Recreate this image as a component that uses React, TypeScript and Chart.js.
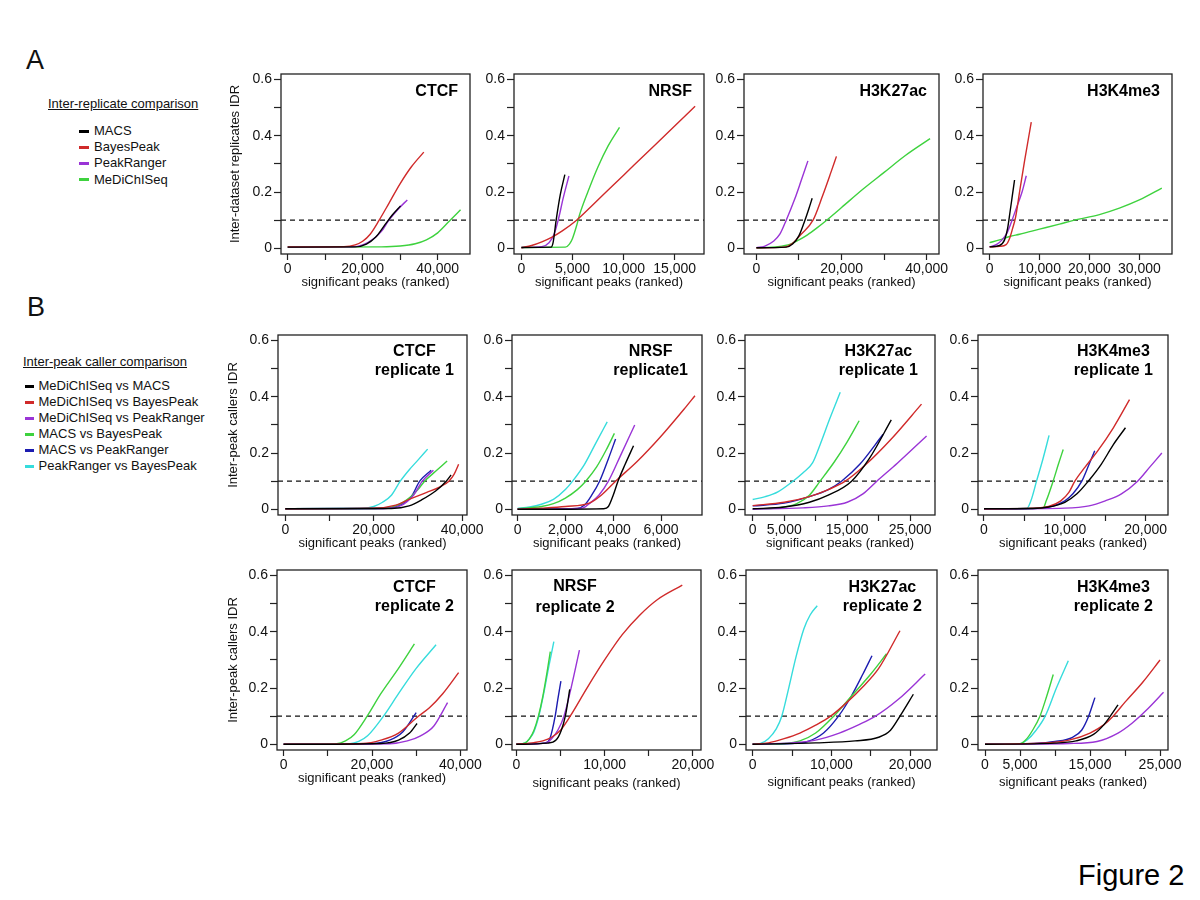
import React, { useEffect, useRef } from "react";
import { Chart, registerables } from "chart.js";

Chart.register(...registerables);

const FONT = '"Liberation Sans", Arial, Helvetica, sans-serif';
Chart.defaults.font.family = FONT;

type Pt = [number, number];

// ---------- colours ----------
const C_BLACK = "#000000";
const C_RED = "#d02a2a";
const C_PURPLE = "#9a34d6";
const C_GREEN = "#3ed23e";
const C_BLUE = "#1c1cb0";
const C_CYAN = "#36dcdc";
const AXIS = "#222222";
const TEXT = "#111111";

// ---------- shared axis values ----------
const Y_TICK_VALUES = [0, 0.1, 0.2, 0.3, 0.4, 0.5, 0.6];
const Y_TICK_LABELS = [0, 0.2, 0.4, 0.6];
const Y_MIN = -0.0203;
const Y_MAX = 0.62;
const IDR_THRESHOLD = 0.1;
const X_TITLE = "significant peaks (ranked)";

// ---------- legend ----------
const A_NAMES = ["MACS", "BayesPeak", "PeakRanger", "MeDiChISeq"];
const A_COLORS = [C_BLACK, C_RED, C_PURPLE, C_GREEN];
const B_NAMES = [
  "MeDiChISeq vs MACS",
  "MeDiChISeq vs BayesPeak",
  "MeDiChISeq vs PeakRanger",
  "MACS vs BayesPeak",
  "MACS vs PeakRanger",
  "PeakRanger vs BayesPeak",
];
const B_COLORS = [C_BLACK, C_RED, C_PURPLE, C_GREEN, C_BLUE, C_CYAN];

// ---------- A: inter-replicate ----------
const A_CTCF_MACS: Pt[] = [[0, 0.004], [18000, 0.005], [21000, 0.015], [23500, 0.04], [26000, 0.085], [28000, 0.12], [30100, 0.151]];
const A_CTCF_BAYES: Pt[] = [[0, 0.005], [15000, 0.006], [18000, 0.012], [20000, 0.025], [22000, 0.05], [24400, 0.1], [27000, 0.16], [30000, 0.23], [33000, 0.29], [36300, 0.342]];
const A_CTCF_PR: Pt[] = [[0, 0.004], [17000, 0.005], [20000, 0.012], [23000, 0.035], [25000, 0.06], [27000, 0.1], [29500, 0.14], [31900, 0.172]];
const A_CTCF_MED: Pt[] = [[0, 0.004], [25000, 0.005], [30000, 0.008], [34000, 0.016], [37000, 0.03], [40000, 0.055], [43000, 0.095], [46100, 0.137]];

const A_NRSF_MACS: Pt[] = [[0, 0.003], [2900, 0.004], [3100, 0.02], [3400, 0.1], [3800, 0.19], [4250, 0.262]];
const A_NRSF_BAYES: Pt[] = [[0, 0.002], [1000, 0.01], [2000, 0.023], [3000, 0.04], [4000, 0.062], [5400, 0.1], [7000, 0.155], [9000, 0.225], [11000, 0.295], [13000, 0.365], [15000, 0.435], [17000, 0.505]];
const A_NRSF_PR: Pt[] = [[0, 0.003], [2000, 0.006], [2700, 0.02], [3200, 0.05], [3600, 0.1], [4100, 0.18], [4650, 0.257]];
const A_NRSF_MED: Pt[] = [[0, 0.003], [4300, 0.004], [4700, 0.015], [5000, 0.035], [5400, 0.08], [5700, 0.12], [6500, 0.2], [7500, 0.29], [8500, 0.365], [9600, 0.43]];

const A_K27_MACS: Pt[] = [[0, 0.002], [7000, 0.004], [8500, 0.015], [10000, 0.045], [11400, 0.1], [12300, 0.14], [13100, 0.178]];
const A_K27_BAYES: Pt[] = [[0, 0.002], [6500, 0.004], [8500, 0.018], [10500, 0.05], [13300, 0.1], [15500, 0.185], [17500, 0.27], [18800, 0.327]];
const A_K27_PR: Pt[] = [[0, 0.002], [2000, 0.008], [4000, 0.025], [5500, 0.05], [7000, 0.1], [9000, 0.175], [10500, 0.24], [12100, 0.311]];
const A_K27_MED: Pt[] = [[0, 0.002], [5000, 0.006], [8000, 0.015], [10000, 0.03], [12000, 0.048], [14000, 0.07], [16500, 0.1], [20000, 0.145], [25000, 0.21], [30000, 0.27], [35000, 0.33], [40800, 0.39]];

const A_K4_MACS: Pt[] = [[0, 0.005], [2000, 0.01], [3000, 0.03], [3600, 0.07], [4100, 0.13], [4500, 0.18], [5000, 0.243]];
const A_K4_BAYES: Pt[] = [[0, 0.005], [2000, 0.007], [3300, 0.013], [4000, 0.035], [4600, 0.07], [5200, 0.11], [6000, 0.2], [7000, 0.31], [8350, 0.449]];
const A_K4_PR: Pt[] = [[0, 0.005], [1500, 0.015], [2500, 0.03], [3500, 0.055], [4500, 0.1], [5500, 0.15], [6500, 0.2], [7350, 0.258]];
const A_K4_MED: Pt[] = [[0, 0.02], [2000, 0.03], [4000, 0.042], [6000, 0.05], [10000, 0.068], [14000, 0.086], [17000, 0.1], [22000, 0.12], [26000, 0.143], [30000, 0.172], [34500, 0.214]];

// ---------- B: inter-peak caller, replicate 1 ----------
const B1_CTCF_MED_MACS: Pt[] = [[0, 0.002], [24000, 0.003], [28000, 0.012], [31000, 0.035], [34000, 0.065], [36400, 0.1], [37500, 0.122]];
const B1_CTCF_MED_BAYES: Pt[] = [[0, 0.002], [20000, 0.004], [25000, 0.015], [28000, 0.035], [32000, 0.06], [35000, 0.08], [37000, 0.1], [38200, 0.125], [39200, 0.16]];
const B1_CTCF_MED_PR: Pt[] = [[0, 0.002], [22000, 0.003], [26000, 0.012], [29000, 0.05], [31000, 0.1], [33500, 0.139]];
const B1_CTCF_MACS_BAYES: Pt[] = [[0, 0.002], [20000, 0.003], [25000, 0.012], [28000, 0.04], [30000, 0.07], [31500, 0.1], [34000, 0.135], [36600, 0.172]];
const B1_CTCF_MACS_PR: Pt[] = [[0, 0.002], [22000, 0.003], [26000, 0.015], [28500, 0.045], [30400, 0.1], [33000, 0.139]];
const B1_CTCF_PR_BAYES: Pt[] = [[0, 0.002], [17000, 0.003], [20000, 0.01], [22000, 0.025], [24000, 0.05], [26000, 0.1], [28000, 0.14], [30000, 0.175], [32200, 0.214]];

const B1_NRSF_MED_MACS: Pt[] = [[0, 0.0], [3600, 0.002], [3800, 0.01], [4000, 0.05], [4200, 0.1], [4500, 0.16], [4850, 0.226]];
const B1_NRSF_MED_BAYES: Pt[] = [[0, 0.0], [1000, 0.004], [2000, 0.01], [3000, 0.022], [3500, 0.05], [4100, 0.1], [5000, 0.17], [6000, 0.26], [7000, 0.36], [7420, 0.404]];
const B1_NRSF_MED_PR: Pt[] = [[0, 0.0], [2700, 0.004], [3000, 0.02], [3400, 0.05], [3800, 0.1], [4300, 0.19], [4900, 0.3]];
const B1_NRSF_MACS_BAYES: Pt[] = [[0, 0.002], [1000, 0.01], [1500, 0.02], [2000, 0.04], [2500, 0.07], [2850, 0.1], [3300, 0.15], [3700, 0.21], [4050, 0.27]];
const B1_NRSF_MACS_PR: Pt[] = [[0, 0.0], [2500, 0.003], [2800, 0.015], [3100, 0.05], [3430, 0.1], [3800, 0.18], [4100, 0.25]];
const B1_NRSF_PR_BAYES: Pt[] = [[0, 0.003], [500, 0.008], [1000, 0.018], [1500, 0.035], [2000, 0.07], [2300, 0.1], [2800, 0.16], [3300, 0.24], [3750, 0.311]];

const B1_K27_MED_MACS: Pt[] = [[0, 0.002], [5000, 0.008], [9000, 0.025], [12000, 0.05], [15700, 0.1], [18500, 0.18], [22000, 0.318]];
const B1_K27_MED_BAYES: Pt[] = [[0, 0.013], [5000, 0.025], [9000, 0.045], [12000, 0.07], [14700, 0.1], [18000, 0.16], [22000, 0.25], [26800, 0.374]];
const B1_K27_MED_PR: Pt[] = [[0, 0.0], [8000, 0.005], [12000, 0.012], [15000, 0.025], [17500, 0.055], [19700, 0.1], [23000, 0.165], [27600, 0.261]];
const B1_K27_MACS_BAYES: Pt[] = [[0, 0.0], [4000, 0.005], [7000, 0.02], [9000, 0.05], [10700, 0.1], [13000, 0.17], [15000, 0.24], [16900, 0.315]];
const B1_K27_MACS_PR: Pt[] = [[0, 0.012], [5000, 0.022], [9000, 0.045], [12000, 0.07], [14100, 0.1], [17000, 0.16], [20700, 0.267]];
const B1_K27_PR_BAYES: Pt[] = [[0, 0.035], [2000, 0.045], [4000, 0.062], [6400, 0.1], [8000, 0.13], [9500, 0.165], [10700, 0.23], [12200, 0.32], [13900, 0.416]];

const B1_K4_MED_MACS: Pt[] = [[0, 0.002], [6000, 0.003], [8000, 0.008], [10000, 0.025], [11500, 0.055], [12900, 0.1], [14500, 0.16], [16000, 0.23], [17500, 0.29]];
const B1_K4_MED_BAYES: Pt[] = [[0, 0.002], [6000, 0.004], [8000, 0.01], [9500, 0.03], [10500, 0.06], [11240, 0.1], [12500, 0.15], [14000, 0.205], [16000, 0.29], [18000, 0.39]];
const B1_K4_MED_PR: Pt[] = [[0, 0.001], [10000, 0.004], [13000, 0.012], [15000, 0.03], [17000, 0.055], [19000, 0.1], [20500, 0.15], [22000, 0.2]];
const B1_K4_MACS_BAYES: Pt[] = [[0, 0.002], [7300, 0.004], [7700, 0.03], [8550, 0.1], [9200, 0.16], [9800, 0.213]];
const B1_K4_MACS_PR: Pt[] = [[0, 0.002], [6000, 0.003], [8000, 0.008], [10000, 0.03], [11000, 0.055], [12100, 0.1], [13000, 0.16], [13700, 0.208]];
const B1_K4_PR_BAYES: Pt[] = [[0, 0.002], [5300, 0.003], [5800, 0.03], [6500, 0.1], [7300, 0.18], [8050, 0.263]];

// ---------- B: inter-peak caller, replicate 2 ----------
const B2_CTCF_MED_MACS: Pt[] = [[0, 0.0], [22000, 0.003], [26000, 0.015], [28500, 0.04], [30200, 0.074]];
const B2_CTCF_MED_BAYES: Pt[] = [[0, 0.0], [18000, 0.003], [22000, 0.015], [26000, 0.04], [30500, 0.1], [33000, 0.13], [36000, 0.18], [39600, 0.255]];
const B2_CTCF_MED_PR: Pt[] = [[0, 0.0], [24000, 0.002], [28000, 0.012], [31000, 0.03], [34000, 0.065], [37100, 0.148]];
const B2_CTCF_MACS_BAYES: Pt[] = [[0, 0.0], [12000, 0.002], [14000, 0.012], [16000, 0.035], [18900, 0.1], [22000, 0.18], [26000, 0.27], [29600, 0.357]];
const B2_CTCF_MACS_PR: Pt[] = [[0, 0.0], [20000, 0.003], [24000, 0.015], [27000, 0.045], [30000, 0.113]];
const B2_CTCF_PR_BAYES: Pt[] = [[0, 0.0], [15000, 0.002], [17000, 0.01], [19000, 0.03], [22600, 0.1], [26000, 0.18], [30000, 0.27], [34500, 0.354]];

const B2_NRSF_MED_MACS: Pt[] = [[0, 0.0], [3500, 0.004], [4500, 0.015], [5100, 0.05], [5550, 0.1], [6050, 0.195]];
const B2_NRSF_MED_BAYES: Pt[] = [[0, 0.0], [2000, 0.006], [3000, 0.012], [4000, 0.025], [5000, 0.05], [6100, 0.1], [8000, 0.2], [10000, 0.3], [12000, 0.39], [14000, 0.46], [16000, 0.515], [18800, 0.566]];
const B2_NRSF_MED_PR: Pt[] = [[0, 0.0], [3300, 0.004], [4000, 0.02], [4700, 0.05], [5400, 0.1], [6200, 0.2], [7150, 0.335]];
const B2_NRSF_MACS_BAYES: Pt[] = [[0, 0.0], [1000, 0.005], [1500, 0.02], [2000, 0.05], [2500, 0.1], [3000, 0.17], [3500, 0.26], [3850, 0.33]];
const B2_NRSF_MACS_PR: Pt[] = [[0, 0.0], [3300, 0.005], [3800, 0.02], [4400, 0.1], [4700, 0.16], [5050, 0.225]];
const B2_NRSF_PR_BAYES: Pt[] = [[0, 0.0], [1000, 0.005], [1500, 0.02], [2000, 0.045], [2550, 0.1], [3100, 0.18], [3700, 0.28], [4250, 0.365]];

const B2_K27_MED_MACS: Pt[] = [[0, 0.0], [8000, 0.005], [13000, 0.012], [16000, 0.025], [17500, 0.05], [18700, 0.1], [20400, 0.178]];
const B2_K27_MED_BAYES: Pt[] = [[0, 0.0], [2000, 0.005], [4000, 0.02], [6000, 0.04], [8000, 0.068], [9900, 0.1], [12000, 0.15], [14000, 0.205], [16000, 0.27], [18700, 0.404]];
const B2_K27_MED_PR: Pt[] = [[0, 0.0], [5000, 0.005], [8000, 0.015], [11000, 0.04], [13500, 0.07], [15600, 0.1], [18500, 0.16], [21900, 0.25]];
const B2_K27_MACS_BAYES: Pt[] = [[0, 0.0], [4000, 0.003], [6000, 0.012], [8000, 0.04], [10300, 0.1], [12500, 0.17], [15000, 0.25], [17000, 0.322]];
const B2_K27_MACS_PR: Pt[] = [[0, 0.0], [5000, 0.003], [7000, 0.01], [9000, 0.04], [10900, 0.1], [12500, 0.17], [14000, 0.25], [15150, 0.315]];
const B2_K27_PR_BAYES: Pt[] = [[0, 0.0], [1000, 0.003], [2000, 0.02], [3000, 0.055], [3700, 0.1], [4500, 0.19], [5500, 0.31], [6500, 0.41], [7300, 0.46], [8200, 0.493]];

const B2_K4_MED_MACS: Pt[] = [[0, 0.0], [10000, 0.004], [13000, 0.012], [15500, 0.035], [17000, 0.07], [17900, 0.1], [19000, 0.14]];
const B2_K4_MED_BAYES: Pt[] = [[0, 0.0], [8000, 0.004], [12000, 0.015], [15000, 0.04], [17000, 0.07], [18300, 0.1], [20000, 0.15], [22500, 0.22], [25000, 0.3]];
const B2_K4_MED_PR: Pt[] = [[0, 0.0], [12000, 0.003], [16000, 0.01], [19000, 0.04], [21000, 0.075], [23000, 0.12], [25500, 0.185]];
const B2_K4_MACS_BAYES: Pt[] = [[0, 0.0], [5000, 0.002], [5800, 0.015], [6800, 0.05], [7850, 0.1], [8800, 0.17], [9750, 0.248]];
const B2_K4_MACS_PR: Pt[] = [[0, 0.0], [7000, 0.003], [10000, 0.01], [12500, 0.025], [13800, 0.05], [14800, 0.1], [15700, 0.166]];
const B2_K4_PR_BAYES: Pt[] = [[0, 0.0], [5000, 0.002], [6000, 0.015], [7300, 0.05], [8600, 0.1], [10200, 0.2], [11900, 0.297]];

// ---------- panel definitions ----------
interface Series { label: string; color: string; data: Pt[] }
interface PanelCfg {
  box: [number, number, number, number];
  xMin: number;
  xMax: number;
  xTicks: number[];
  xLabels: number[];
  title: string[];
  titleY: number[];
  titleRight?: number;
  titleCenterFromLeft?: number;
  yTitle?: string;
  yTitleX?: number;
  xTitleOffset: number;
  series: Series[];
}

const aSeries = (d: Pt[][]): Series[] => d.map((data, i) => ({ label: A_NAMES[i], color: A_COLORS[i], data }));
const bSeries = (d: Pt[][]): Series[] => d.map((data, i) => ({ label: B_NAMES[i], color: B_COLORS[i], data }));

const T10 = [0, 10000, 20000, 30000, 40000];

const PANELS: PanelCfg[] = [
  // row A
  { box: [281, 74, 470, 254], xMin: -1780, xMax: 48620, xTicks: T10, xLabels: [0, 20000, 40000], title: ["CTCF"], titleY: [18], titleRight: 12, yTitle: "Inter-dataset replicates IDR", yTitleX: 235, xTitleOffset: 28, series: aSeries([A_CTCF_MACS, A_CTCF_BAYES, A_CTCF_PR, A_CTCF_MED]) },
  { box: [514, 74, 704, 254], xMin: -725, xMax: 17870, xTicks: [0, 5000, 10000, 15000], xLabels: [0, 5000, 10000, 15000], title: ["NRSF"], titleY: [18], titleRight: 12, xTitleOffset: 28, series: aSeries([A_NRSF_MACS, A_NRSF_BAYES, A_NRSF_PR, A_NRSF_MED]) },
  { box: [744, 74, 939, 254], xMin: -2920, xMax: 42900, xTicks: T10, xLabels: [0, 20000, 40000], title: ["H3K27ac"], titleY: [18], titleRight: 12, xTitleOffset: 28, series: aSeries([A_K27_MACS, A_K27_BAYES, A_K27_PR, A_K27_MED]) },
  { box: [983, 74, 1172, 254], xMin: -1320, xMax: 36540, xTicks: [0, 10000, 20000, 30000], xLabels: [0, 10000, 20000, 30000], title: ["H3K4me3"], titleY: [18], titleRight: 12, xTitleOffset: 28, series: aSeries([A_K4_MACS, A_K4_BAYES, A_K4_PR, A_K4_MED]) },
  // row B1
  { box: [278, 335, 467, 515], xMin: -1650, xMax: 41100, xTicks: T10, xLabels: [0, 20000, 40000], title: ["CTCF", "replicate 1"], titleY: [17, 35.5], titleRight: 13, yTitle: "Inter-peak callers IDR", yTitleX: 233.5, xTitleOffset: 28, series: bSeries([B1_CTCF_MED_MACS, B1_CTCF_MED_BAYES, B1_CTCF_MED_PR, B1_CTCF_MACS_BAYES, B1_CTCF_MACS_PR, B1_CTCF_PR_BAYES]) },
  { box: [512, 335, 702, 515], xMin: -234, xMax: 7715, xTicks: [0, 2000, 4000, 6000], xLabels: [0, 2000, 4000, 6000], title: ["NRSF", "replicate1"], titleY: [17, 35.5], titleRight: 14, xTitleOffset: 28, series: bSeries([B1_NRSF_MED_MACS, B1_NRSF_MED_BAYES, B1_NRSF_MED_PR, B1_NRSF_MACS_BAYES, B1_NRSF_MACS_PR, B1_NRSF_PR_BAYES]) },
  { box: [745, 335, 935, 515], xMin: -1220, xMax: 28940, xTicks: [0, 5000, 10000, 15000, 20000, 25000], xLabels: [0, 5000, 15000, 25000], title: ["H3K27ac", "replicate 1"], titleY: [17, 35.5], titleRight: 17, xTitleOffset: 28, series: bSeries([B1_K27_MED_MACS, B1_K27_MED_BAYES, B1_K27_MED_PR, B1_K27_MACS_BAYES, B1_K27_MACS_PR, B1_K27_PR_BAYES]) },
  { box: [978, 335, 1168, 515], xMin: -740, xMax: 22760, xTicks: [0, 5000, 10000, 15000, 20000], xLabels: [0, 10000, 20000], title: ["H3K4me3", "replicate 1"], titleY: [17, 35.5], titleRight: 15, xTitleOffset: 28, series: bSeries([B1_K4_MED_MACS, B1_K4_MED_BAYES, B1_K4_MED_PR, B1_K4_MACS_BAYES, B1_K4_MACS_PR, B1_K4_PR_BAYES]) },
  // row B2
  { box: [277, 570, 467, 750], xMin: -1500, xMax: 41500, xTicks: T10, xLabels: [0, 20000, 40000], title: ["CTCF", "replicate 2"], titleY: [18, 36.5], titleRight: 13, yTitle: "Inter-peak callers IDR", yTitleX: 233.5, xTitleOffset: 28, series: bSeries([B2_CTCF_MED_MACS, B2_CTCF_MED_BAYES, B2_CTCF_MED_PR, B2_CTCF_MACS_BAYES, B2_CTCF_MACS_PR, B2_CTCF_PR_BAYES]) },
  { box: [512, 570, 701, 750], xMin: -490, xMax: 20920, xTicks: [0, 5000, 10000, 15000, 20000], xLabels: [0, 10000, 20000], title: ["NRSF", "replicate 2"], titleY: [17, 38], titleCenterFromLeft: 63, xTitleOffset: 33, series: bSeries([B2_NRSF_MED_MACS, B2_NRSF_MED_BAYES, B2_NRSF_MED_PR, B2_NRSF_MACS_BAYES, B2_NRSF_MACS_PR, B2_NRSF_PR_BAYES]) },
  { box: [746, 570, 937, 750], xMin: -840, xMax: 23400, xTicks: [0, 5000, 10000, 15000, 20000], xLabels: [0, 10000, 20000], title: ["H3K27ac", "replicate 2"], titleY: [18, 36.5], titleRight: 15, xTitleOffset: 32, series: bSeries([B2_K27_MED_MACS, B2_K27_MED_BAYES, B2_K27_MED_PR, B2_K27_MACS_BAYES, B2_K27_MACS_PR, B2_K27_PR_BAYES]) },
  { box: [978, 570, 1168, 750], xMin: -1000, xMax: 26140, xTicks: [0, 5000, 10000, 15000, 20000, 25000], xLabels: [0, 5000, 15000, 25000], title: ["H3K4me3", "replicate 2"], titleY: [18, 36.5], titleRight: 15, xTitleOffset: 32, series: bSeries([B2_K4_MED_MACS, B2_K4_MED_BAYES, B2_K4_MED_PR, B2_K4_MACS_BAYES, B2_K4_MACS_PR, B2_K4_PR_BAYES]) },
];

const fmtX = (v: number) => v.toLocaleString("en-US");
const fmtY = (v: number) => (v === 0 ? "0" : v.toFixed(1));

const PT = 12;
const PR = 30;
const XH = 46;

function Panel({ cfg }: { cfg: PanelCfg }) {
  const ref = useRef<HTMLCanvasElement | null>(null);
  const [l, t, r, b] = cfg.box;
  const YW = cfg.yTitle ? 62 : 40;
  const w = YW + (r - l) + PR;
  const h = PT + (b - t) + XH;

  useEffect(() => {
    const canvas = ref.current;
    if (!canvas) return;
    const decor = {
      id: "panelDecor",
      afterDatasetsDraw(chart: any) {
        const { ctx, chartArea: a } = chart;
        ctx.save();
        ctx.strokeStyle = AXIS;
        ctx.lineWidth = 1.3;
        ctx.strokeRect(a.left, a.top, a.right - a.left, a.bottom - a.top);
        ctx.fillStyle = "#000";
        ctx.font = `bold 16px ${FONT}`;
        ctx.textAlign = "center";
        ctx.textBaseline = "middle";
        const maxW = Math.max(...cfg.title.map((s) => ctx.measureText(s).width));
        const cx = cfg.titleCenterFromLeft != null ? a.left + cfg.titleCenterFromLeft : a.right - (cfg.titleRight || 12) - maxW / 2;
        cfg.title.forEach((s, i) => ctx.fillText(s, cx, a.top + cfg.titleY[i]));
        ctx.restore();
      },
    };
    const datasets: any[] = cfg.series.map((s) => ({
      label: s.label,
      data: s.data.map(([x, y]) => ({ x, y })),
      borderColor: s.color,
      backgroundColor: s.color,
      borderWidth: 1.4,
      pointRadius: 0,
      fill: false,
      cubicInterpolationMode: "monotone",
    }));
    datasets.push({
      label: "IDR 0.1",
      data: [{ x: cfg.xMin, y: IDR_THRESHOLD }, { x: cfg.xMax, y: IDR_THRESHOLD }],
      borderColor: "#111",
      borderWidth: 1.3,
      borderDash: [5, 4],
      pointRadius: 0,
      fill: false,
    });
    const yTitlePad = cfg.yTitle ? (cfg.yTitleX as number) - (l - YW) - 7.8 : 0;
    const chart = new Chart(canvas, {
      type: "line",
      data: { datasets },
      options: {
        responsive: false,
        animation: false,
        events: [],
        layout: { padding: { top: PT, right: PR, bottom: 0, left: 0 } },
        plugins: { legend: { display: false }, tooltip: { enabled: false } },
        scales: {
          x: {
            type: "linear",
            min: cfg.xMin,
            max: cfg.xMax,
            afterBuildTicks: (axis: any) => {
              axis.ticks = cfg.xTicks.map((v) => ({ value: v }));
            },
            afterFit: (axis: any) => {
              axis.height = XH;
            },
            border: { display: false },
            grid: { display: true, drawOnChartArea: false, drawTicks: true, tickLength: 6, tickColor: AXIS, tickWidth: 1.2 },
            ticks: {
              autoSkip: false,
              maxRotation: 0,
              minRotation: 0,
              padding: 1,
              color: TEXT,
              font: { family: FONT, size: 14 },
              callback: (v: any) => (cfg.xLabels.includes(Number(v)) ? fmtX(Number(v)) : ""),
            },
            title: {
              display: true,
              text: X_TITLE,
              color: TEXT,
              font: { family: FONT, size: 13 },
              padding: { top: 0, bottom: XH - cfg.xTitleOffset - 7.8 },
            },
          },
          y: {
            type: "linear",
            min: Y_MIN,
            max: Y_MAX,
            afterBuildTicks: (axis: any) => {
              axis.ticks = Y_TICK_VALUES.map((v) => ({ value: v }));
            },
            afterFit: (axis: any) => {
              axis.width = YW;
            },
            border: { display: false },
            grid: { display: true, drawOnChartArea: false, drawTicks: true, tickLength: 7, tickColor: AXIS, tickWidth: 1.2 },
            ticks: {
              autoSkip: false,
              padding: 2,
              color: TEXT,
              font: { family: FONT, size: 14 },
              callback: (v: any) => {
                const n = Math.round(Number(v) * 10) / 10;
                return Y_TICK_LABELS.includes(n) ? fmtY(n) : "";
              },
            },
            title: {
              display: !!cfg.yTitle,
              text: cfg.yTitle || "",
              color: TEXT,
              font: { family: FONT, size: 13 },
              padding: { top: yTitlePad, bottom: 0 },
            },
          },
        },
      } as any,
      plugins: [decor],
    });
    return () => chart.destroy();
  }, [cfg]);

  return (
    <canvas
      ref={ref}
      width={w}
      height={h}
      style={{ position: "absolute", left: l - YW, top: t - PT, width: w, height: h }}
    />
  );
}

const txt: React.CSSProperties = { position: "absolute", fontFamily: FONT, color: "#111", whiteSpace: "nowrap" };

function LegendItem({ x, y, color, label, markW }: { x: number; y: number; color: string; label: string; markW: number }) {
  return (
    <>
      <div style={{ position: "absolute", left: x, top: y - 1.5, width: markW, height: 3, background: color }} />
      <div style={{ ...txt, left: x + markW + 5, top: y - 8, fontSize: 13, lineHeight: "16px" }}>{label}</div>
    </>
  );
}

export default function App() {
  return (
    <div style={{ position: "absolute", left: 0, top: 0, width: 1200, height: 900, background: "#fff", overflow: "hidden" }}>
      <div style={{ ...txt, left: 26, top: 47, fontSize: 27, lineHeight: "27px" }}>A</div>
      <div style={{ ...txt, left: 27, top: 294, fontSize: 27, lineHeight: "27px" }}>B</div>

      <div style={{ ...txt, left: 48, top: 96, fontSize: 13, lineHeight: "16px", textDecoration: "underline" }}>Inter-replicate comparison</div>
      {A_NAMES.map((n, i) => (
        <LegendItem key={n} x={79} y={131 + i * 16.2} color={A_COLORS[i]} label={n} markW={10} />
      ))}

      <div style={{ ...txt, left: 23, top: 354, fontSize: 13, lineHeight: "16px", textDecoration: "underline" }}>Inter-peak caller comparison</div>
      {B_NAMES.map((n, i) => (
        <LegendItem key={n} x={25} y={386 + i * 16.05} color={B_COLORS[i]} label={n} markW={8.5} />
      ))}

      {PANELS.map((p, i) => (
        <Panel key={i} cfg={p} />
      ))}

      <div style={{ ...txt, left: 1078, top: 860, fontSize: 29, lineHeight: "30px", color: "#000" }}>Figure 2</div>
    </div>
  );
}
